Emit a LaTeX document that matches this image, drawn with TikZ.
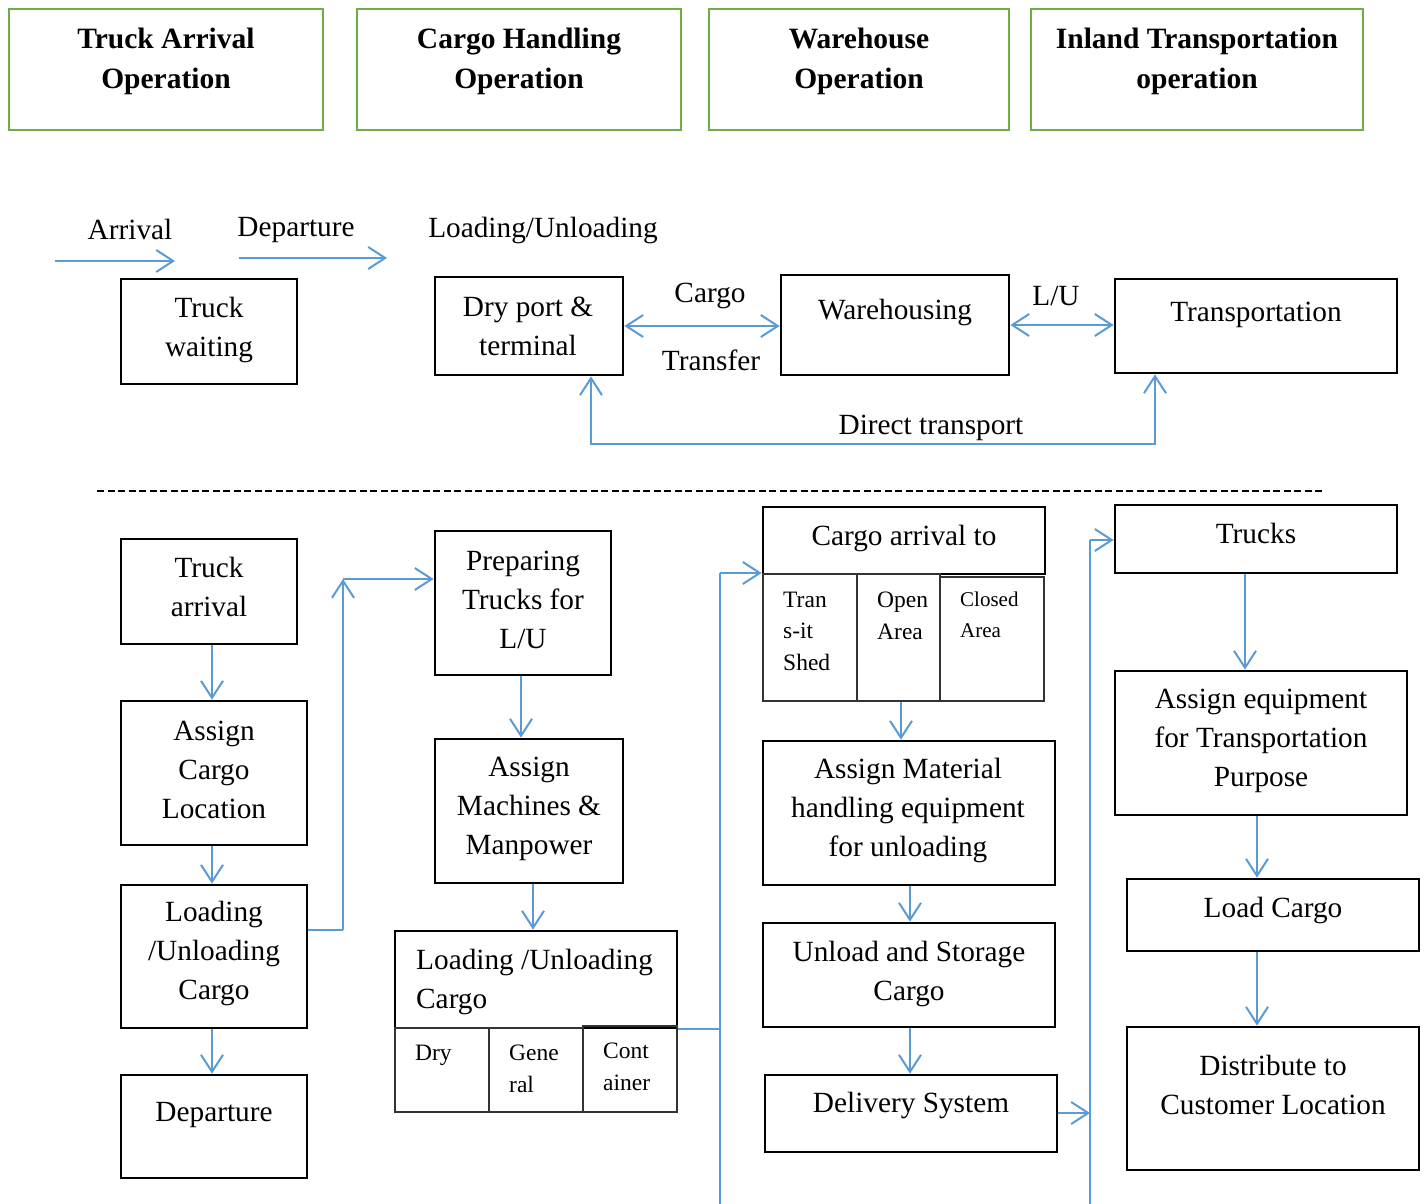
\documentclass[tikz,border=0pt]{standalone}
\usepackage{fontspec}
\setmainfont{Liberation Serif}
\usetikzlibrary{arrows.meta,fit}
\definecolor{hdrgreen}{HTML}{70AD47}
\definecolor{flowblue}{HTML}{5B9BD5}
\definecolor{cellgray}{HTML}{333333}
\begin{document}
\begin{tikzpicture}[x=1pt,y=-1pt,
  frame/.style={draw=black,line width=2.7pt,inner sep=0pt,fit={#1}},
  hdr/.style={draw=hdrgreen,line width=2.2pt,inner sep=0pt,fit={#1}},
  cell/.style={draw=cellgray,line width=1.5pt,inner sep=0pt,fit={#1}},
  txt/.style={inner sep=0pt,align=center,yshift=-2.5pt,font=\fontsize{29.3}{39}\selectfont},
  ltxt/.style={inner sep=0pt,align=left,anchor=west,yshift=-1.5pt,font=\fontsize{29.3}{39}\selectfont},
  stxt/.style={inner sep=0pt,align=left,anchor=west,font=\fontsize{23.5}{31.5}\selectfont},
  sstxt/.style={inner sep=0pt,align=left,anchor=west,font=\fontsize{21}{31}\selectfont},
  htxt/.style={inner sep=0pt,align=center,yshift=-4pt,font=\fontsize{29.5}{40}\selectfont\bfseries},
  link/.style={draw=flowblue,line width=2pt},
  arr/.style={link,-{Straight Barb[length=17pt,width=22pt]}},
  darr/.style={link,{Straight Barb[length=17pt,width=22pt]}-{Straight Barb[length=17pt,width=22pt]}},
]
\useasboundingbox (0,0) rectangle (1424,1204);

% ---------- section headers ----------
\node[hdr={(9,9)(323,130)}] (h1) {};
\node[htxt] (h1t) at (166,57) {Truck Arrival\\Operation};
\node[hdr={(357,9)(681,130)}] (h2) {};
\node[htxt] (h2t) at (519,57) {Cargo Handling\\Operation};
\node[hdr={(709,9)(1009,130)}] (h3) {};
\node[htxt] (h3t) at (859,57) {Warehouse\\Operation};
\node[hdr={(1031,9)(1363,130)}] (h4) {};
\node[htxt] (h4t) at (1197,57) {Inland Transportation\\operation};

% ---------- overview flow ----------
\node[txt] (lArr) at (130,227) {Arrival};
\node[txt] (lDep) at (296,228) {Departure};
\node[txt] (lLU) at (543,228) {Loading/Unloading};
\coordinate (arrA) at (55,261);
\coordinate (arrB) at (175,261);
\coordinate (depA) at (239,258);
\coordinate (depB) at (387,258);
\draw[arr] (arrA) -- (arrB);
\draw[arr] (depA) -- (depB);

\node[frame={(121,279)(297,384)}] (tw) {};
\node[txt] (twt) at (209,327) {Truck\\waiting};
\node[frame={(435,277)(623,375)}] (dry) {};
\node[txt] (dryt) at (528,324) {Dry port \&\\terminal};
\node[frame={(781,275)(1009,375)}] (wh) {};
\node[txt] (wht) at (895,310) {Warehousing};
\node[frame={(1115,279)(1397,373)}] (tr) {};
\node[txt] (trt) at (1256,312) {Transportation};

\draw[darr] (dry.east) -- (dry.east -| wh.west);
\node[txt] (lCargo) at (710,293) {Cargo};
\node[txt] (lTransfer) at (711,358) {Transfer};
\draw[darr] (wh.east) -- (wh.east -| tr.west);
\node[txt] (lLU2) at (1056,293) {L/U};

\coordinate (dtL) at (591,444);
\coordinate (dtR) at (1155,444);
\draw[darr] (dry.south -| dtL) -- (dtL) -- (dtR) -- (tr.south -| dtR);
\node[txt] (lDirect) at (931,425) {Direct transport};

% ---------- separator ----------
\coordinate (sepL) at (97,491);
\coordinate (sepR) at (1325,491);
\draw[black,line width=1.2pt,dash pattern=on 7pt off 3.5pt] (sepL) -- (sepR);

% ---------- column x positions for vertical links ----------
\coordinate (x212) at (212,0);
\coordinate (x521) at (521,0);
\coordinate (x533) at (533,0);
\coordinate (x901) at (901,0);
\coordinate (x910) at (910,0);
\coordinate (x1245) at (1245,0);
\coordinate (x1257) at (1257,0);

% ---------- truck arrival operation ----------
\node[frame={(121,539)(297,644)}] (tarr) {};
\node[txt] (tarrt) at (209,584) {Truck\\arrival};
\node[frame={(121,701)(307,845)}] (acl) {};
\node[txt] (aclt) at (214,767) {Assign\\Cargo\\Location};
\node[frame={(121,885)(307,1028)}] (luc) {};
\node[txt] (luct) at (214,951) {Loading\\/Unloading\\Cargo};
\node[frame={(121,1075)(307,1178)}] (dep) {};
\node[txt] (dept) at (214,1113) {Departure};

\draw[arr] (tarr.south -| x212) -- (acl.north -| x212);
\draw[arr] (acl.south -| x212) -- (luc.north -| x212);
\draw[arr] (luc.south -| x212) -- (dep.north -| x212);

% ---------- cargo handling operation ----------
\node[frame={(435,531)(611,675)}] (prep) {};
\node[txt] (prept) at (523,597) {Preparing\\Trucks for\\L/U};
\node[frame={(435,739)(623,883)}] (amm) {};
\node[txt] (ammt) at (529,806) {Assign\\Machines \&\\Manpower};
\node[frame={(395,931)(677,1028)}] (luh) {};
\node[ltxt] (luht) at (416,980) {Loading /Unloading\\Cargo};
\node[cell={(395,1028)(489,1112)}] (lc1) {};
\node[cell={(489,1028)(583,1112)}] (lc2) {};
\node[cell={(583,1026)(677,1112)}] (lc3) {};
\node[stxt] (lc1t) at (415,1055) {Dry};
\node[stxt] (lc2t) at (509,1069) {Gene\\ral};
\node[stxt] (lc3t) at (603,1067) {Cont\\ainer};

\coordinate (turn1) at (343,930);
\coordinate (turn2) at (343,579);
\draw[link] (luc.east |- turn1) -- (turn1);
\draw[arr] (turn1) -- (turn2);
\draw[arr] (turn2) -- (turn2 -| prep.west);
\draw[arr] (prep.south -| x521) -- (amm.north -| x521);
\draw[arr] (amm.south -| x533) -- (luh.north -| x533);

% ---------- warehouse operation ----------
\node[frame={(763,507)(1045,574)}] (cah) {};
\node[txt] (caht) at (904,536) {Cargo arrival to};
\node[cell={(763,574)(857,701)}] (wc1) {};
\node[cell={(857,574)(940,701)}] (wc2) {};
\node[cell={(940,577)(1044,701)}] (wc3) {};
\node[stxt] (wc1t) at (783,631) {Tran\\s-it\\Shed};
\node[stxt] (wc2t) at (877,616) {Open\\Area};
\node[sstxt] (wc3t) at (960,615) {Closed\\Area};
\node[frame={(763,741)(1055,885)}] (amh) {};
\node[txt] (amht) at (908,808) {Assign Material\\handling equipment\\for unloading};
\node[frame={(763,923)(1055,1027)}] (usc) {};
\node[txt] (usct) at (909,971) {Unload and Storage\\Cargo};
\node[frame={(765,1075)(1057,1152)}] (del) {};
\node[txt] (delt) at (911,1103) {Delivery System};

\coordinate (b1top) at (720,573);
\coordinate (b1bot) at (720,1204);
\draw[link] (luh.south east) -- (luh.south east -| b1top);
\draw[link] (b1bot) -- (b1top);
\draw[arr] (b1top) -- (b1top -| cah.west);
\draw[arr] (wc2.south -| x901) -- (amh.north -| x901);
\draw[arr] (amh.south -| x910) -- (usc.north -| x910);
\draw[arr] (usc.south -| x910) -- (del.north -| x910);

% ---------- inland transportation operation ----------
\node[frame={(1115,505)(1397,573)}] (trk) {};
\node[txt] (trkt) at (1256,531) {Trucks};
\node[frame={(1115,671)(1407,815)}] (aet) {};
\node[txt] (aett) at (1261,738) {Assign equipment\\for Transportation\\Purpose};
\node[frame={(1127,879)(1419,951)}] (lcg) {};
\node[txt] (lcgt) at (1273,908) {Load Cargo};
\node[frame={(1127,1027)(1419,1170)}] (dist) {};
\node[txt] (distt) at (1273,1082) {Distribute to\\Customer Location};

\coordinate (b2top) at (1090,540);
\coordinate (b2bot) at (1090,1204);
\coordinate (b2mid) at (1090,1113);
\draw[link] (b2bot) -- (b2top);
\draw[arr] (b2top) -- (b2top -| trk.west);
\draw[arr] (del.east |- b2mid) -- (b2mid);
\draw[arr] (trk.south -| x1245) -- (aet.north -| x1245);
\draw[arr] (aet.south -| x1257) -- (lcg.north -| x1257);
\draw[arr] (lcg.south -| x1257) -- (dist.north -| x1257);

\end{tikzpicture}
\end{document}
